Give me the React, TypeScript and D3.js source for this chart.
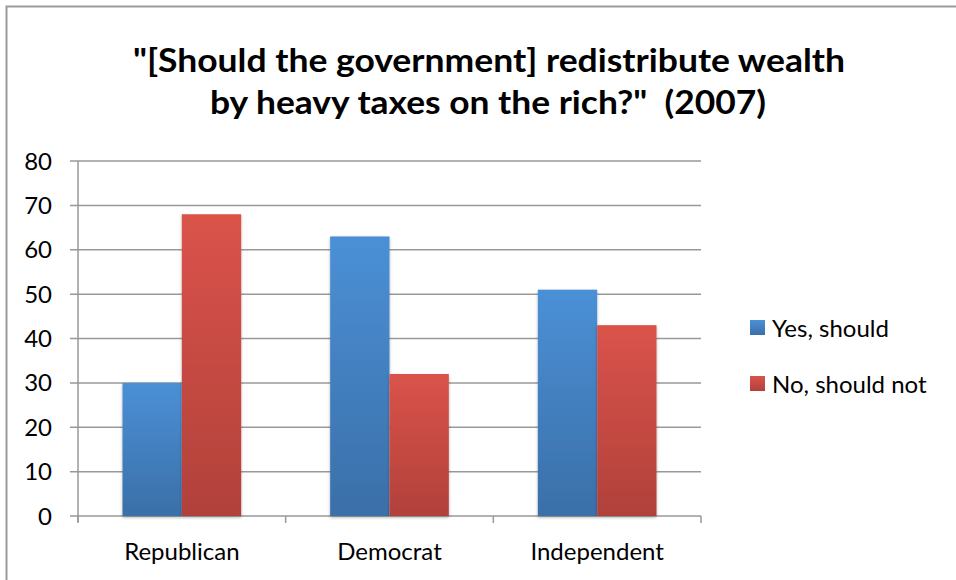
import React from "react";
import * as d3 from "d3";

const categories = ["Republican", "Democrat", "Independent"];
const seriesNames = ["Yes, should", "No, should not"];
const yesValues = [30, 63, 51];
const noValues = [68, 32, 43];
const yTicks = [0, 10, 20, 30, 40, 50, 60, 70, 80];
const titleLines = ['"[Should the government] redistribute wealth', 'by heavy taxes on the rich?"\u00a0\u00a0(2007)'];

const W = 956;
const H = 580;
const FONT = "Lato, 'Open Sans', sans-serif";

export default function App() {
  const plotLeft = 78;
  const plotRight = 701;
  const plotTop = 161;
  const plotBottom = 516;

  const x = d3.scaleBand<string>().domain(categories).range([plotLeft, plotRight]).paddingInner(0).paddingOuter(0);
  const y = d3.scaleLinear().domain([0, 80]).range([plotBottom, plotTop]);
  const bw = x.bandwidth();
  const barW = bw / 3.5;
  const sub = d3.scaleBand<number>().domain([0, 1]).range([0, barW * 2]);

  const series = [
    { name: seriesNames[0], values: yesValues, grad: "gBlue" },
    { name: seriesNames[1], values: noValues, grad: "gRed" },
  ];

  return (
    <svg width={W} height={H} style={{ position: "absolute", left: 0, top: 0, background: "#fff" }}>
      <defs>
        <linearGradient id="gBlue" x1="0" y1="0" x2="0" y2="1">
          <stop offset="0" stopColor="#4b90d6" />
          <stop offset="1" stopColor="#3a6fa8" />
        </linearGradient>
        <linearGradient id="gRed" x1="0" y1="0" x2="0" y2="1">
          <stop offset="0" stopColor="#da534a" />
          <stop offset="1" stopColor="#b1413b" />
        </linearGradient>
        <filter id="shadow" x="-20%" y="-5%" width="140%" height="115%">
          <feDropShadow dx="0" dy="1.5" stdDeviation="1.8" floodColor="#000" floodOpacity="0.3" />
        </filter>
      </defs>
      <rect x={6.5} y={6.5} width={W + 10} height={H + 10} fill="#fff" stroke="#9a9a9a" strokeWidth={2} />

      {titleLines.map((t, i) => (
        <text
          key={i}
          x={(i === 0 ? 133 + 845 : 210 + 766) / 2}
          y={i === 0 ? 72 : 114}
          textAnchor="middle"
          fontFamily={FONT}
          fontWeight="bold"
          fontSize={33}
          fill="#000"
          textLength={i === 0 ? 712 : 556}
          lengthAdjust="spacingAndGlyphs"
        >
          {t}
        </text>
      ))}

      {/* gridlines */}
      {yTicks.map((t) => (
        <g key={t}>
          <line x1={plotLeft - 8} x2={plotRight} y1={y(t)} y2={y(t)} stroke="#999" strokeWidth={1.5} />
          <text x={52} y={y(t) + 8.5} textAnchor="end" fontFamily={FONT} fontSize={24} fill="#000">
            {t}
          </text>
        </g>
      ))}
      <line x1={plotLeft} x2={plotLeft} y1={plotTop} y2={plotBottom + 6} stroke="#999" strokeWidth={1.5} />
      {/* category ticks */}
      {[...categories.map((c) => x(c) as number), plotRight].map((v, i) => (
        <line key={i} x1={v} x2={v} y1={plotBottom} y2={plotBottom + 7} stroke="#999" strokeWidth={1.5} />
      ))}

      {/* bars */}
      {series.map((s, si) =>
        categories.map((c, ci) => {
          const x0 = (x(c) as number) + (bw - barW * 2) / 2 + (sub(si) as number);
          const yv = y(s.values[ci]);
          return (
            <rect
              key={`${si}-${ci}`}
              x={x0}
              y={yv}
              width={barW}
              height={plotBottom - yv}
              fill={`url(#${s.grad})`}
              filter="url(#shadow)"
            />
          );
        })
      )}

      {/* category labels */}
      {categories.map((c) => (
        <text key={c} x={(x(c) as number) + bw / 2} y={560} textAnchor="middle" fontFamily={FONT} fontSize={24} fill="#000">
          {c}
        </text>
      ))}

      {/* legend */}
      {series.map((s, i) => (
        <g key={s.name} transform={`translate(750, ${320 + i * 56})`}>
          <rect x={0} y={0} width={15} height={15} fill={`url(#${s.grad})`} />
          <text x={22} y={17} fontFamily={FONT} fontSize={24} fill="#000">
            {s.name}
          </text>
        </g>
      ))}
    </svg>
  );
}
